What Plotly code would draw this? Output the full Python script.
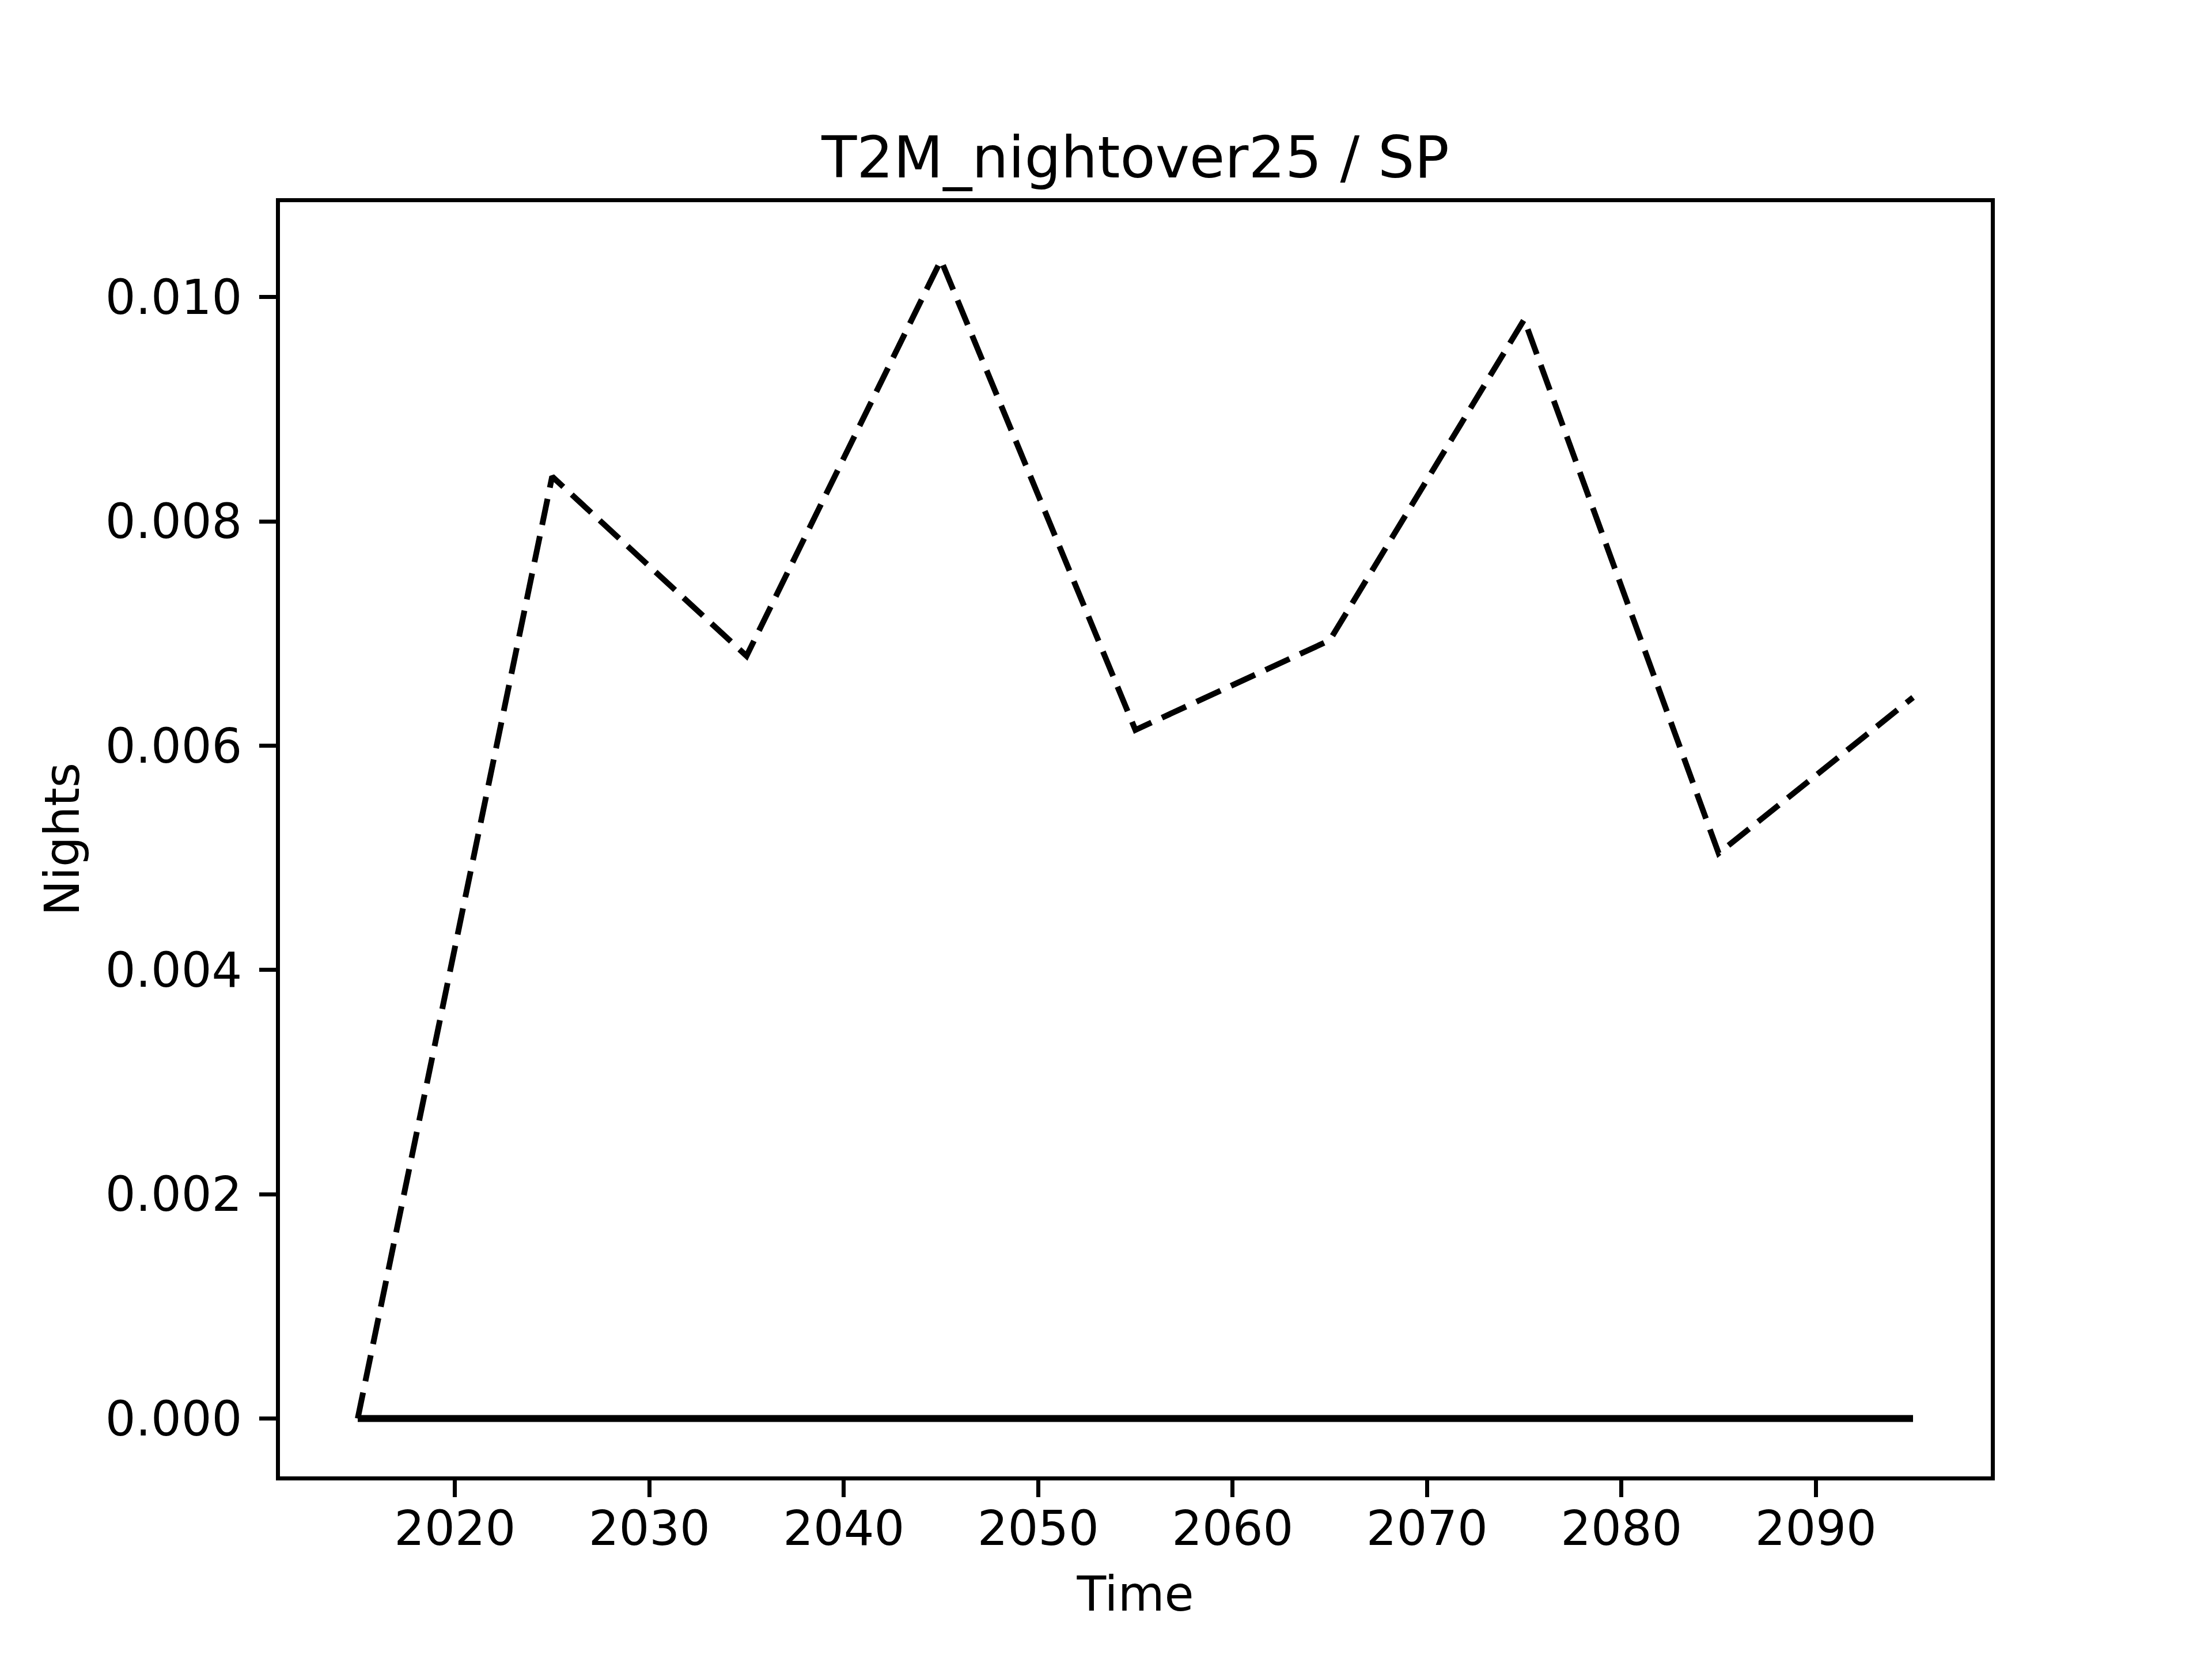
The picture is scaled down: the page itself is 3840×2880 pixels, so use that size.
import plotly.graph_objects as go

years = [2015, 2025, 2035, 2045, 2055, 2065, 2075, 2085, 2095]
dashed_values = [0.0, 0.0084, 0.0068, 0.01033, 0.00614, 0.00694, 0.0098, 0.00504, 0.00643]
solid_values = [0.0, 0.0, 0.0, 0.0, 0.0, 0.0, 0.0, 0.0, 0.0]
x_ticks = [2020, 2030, 2040, 2050, 2060, 2070, 2080, 2090]
y_ticks = [0.0, 0.002, 0.004, 0.006, 0.008, 0.010]
title_text = "T2M_nightover25 / SP"
x_label = "Time"
y_label = "Nights"

FONT = "DejaVu Sans"
fig = go.Figure()
fig.add_trace(go.Scatter(x=years, y=solid_values, mode="lines",
                         line=dict(color="black", width=12), showlegend=False))
fig.add_trace(go.Scatter(x=years, y=dashed_values, mode="lines",
                         line=dict(color="black", width=10, dash="46px,20px"), showlegend=False))

ymin, ymax = min(dashed_values + solid_values), max(dashed_values + solid_values)
pad = (ymax - ymin) * 0.05
xpad = (max(years) - min(years)) * 0.05

axis_common = dict(showline=True, linecolor="black", linewidth=7, mirror=True,
                   ticks="outside", ticklen=29, tickwidth=7, tickcolor="black",
                   showgrid=False, zeroline=False,
                   tickfont=dict(family=FONT, size=83, color="black"))

fig.update_xaxes(range=[min(years) - xpad, max(years) + xpad], tickvals=x_ticks,
                 ticktext=[str(v) for v in x_ticks], ticklabelstandoff=-17,
                 title=dict(text=x_label, font=dict(family=FONT, size=83, color="black"), standoff=40),
                 **axis_common)
fig.update_yaxes(range=[ymin - pad, ymax + pad], tickvals=y_ticks,
                 ticktext=[f"{v:.3f}" for v in y_ticks], ticklabelstandoff=13,
                 title=dict(text=y_label, font=dict(family=FONT, size=83, color="black"), standoff=20),
                 **axis_common)

fig.update_layout(
    width=3840, height=2880,
    margin=dict(l=478, r=392, t=343, b=325),
    plot_bgcolor="white", paper_bgcolor="white",
    title=dict(text=title_text, x=0.5, xref="paper", y=1 - 265 / 2880, yref="container",
               xanchor="center", yanchor="middle",
               font=dict(family=FONT, size=100, color="black")),
)
fig.write_html("out.html")
